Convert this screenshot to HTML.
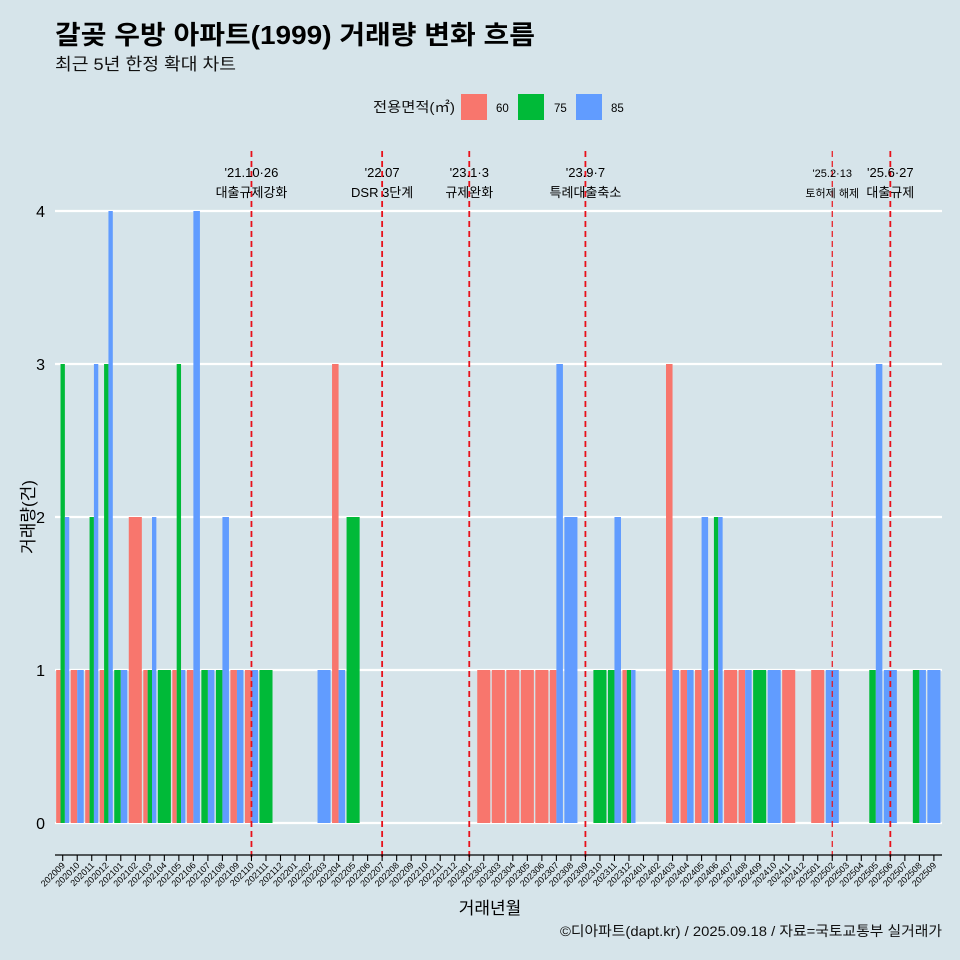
<!DOCTYPE html>
<html><head><meta charset="utf-8"><style>
body{margin:0;background:#d6e4ea;}
svg{display:block;font-family:"Liberation Sans","Noto Sans CJK KR",sans-serif;}
</style></head><body>
<svg id="chart" width="960" height="960" viewBox="0 0 960 960">
<rect width="960" height="960" fill="#d6e4ea"/>
<text x="55" y="44" font-size="26" font-weight="bold" fill="#000" textLength="480" lengthAdjust="spacingAndGlyphs">갈곶 우방 아파트(1999) 거래량 변화 흐름</text>
<text x="55" y="70" font-size="17" fill="#111" textLength="181" lengthAdjust="spacingAndGlyphs">최근 5년 한정 확대 차트</text>
<g>
<text x="373" y="112" font-size="14" fill="#111" textLength="82" lengthAdjust="spacingAndGlyphs">전용면적(㎡)</text>
<rect x="461" y="94" width="26" height="26" fill="#F8766D"/>
<text x="496" y="112" font-size="11.5">60</text>
<rect x="518" y="94" width="26" height="26" fill="#00BA38"/>
<text x="554" y="112" font-size="11.5">75</text>
<rect x="576" y="94" width="26" height="26" fill="#619CFF"/>
<text x="611" y="112" font-size="11.5">85</text>
</g>
<g id="grid"></g><g id="bars"></g><g id="events"></g><g id="xaxis"></g>
<text x="490" y="914" font-size="17" text-anchor="middle">거래년월</text>
<text transform="translate(34,517) rotate(-90)" font-size="17" text-anchor="middle">거래량(건)</text>
<text x="942" y="936" font-size="14" text-anchor="end" fill="#111" textLength="382" lengthAdjust="spacingAndGlyphs">©디아파트(dapt.kr) / 2025.09.18 / 자료=국토교통부 실거래가</text>
</svg>
<script>
const months=[];for(let y=2020,m=9;!(y===2025&&m===10);){months.push(y+String(m).padStart(2,'0'));m++;if(m>12){m=1;y++;}}
const v60=[1,1,1,1,null,2,1,null,1,1,null,null,1,1,null,null,null,null,null,3,null,null,null,null,null,null,null,null,null,1,1,1,1,1,1,null,null,null,null,1,null,null,3,1,1,1,1,1,null,null,1,null,1,null,null,null,null,null,null,null,null];
const v75=[3,null,2,3,1,null,1,1,3,null,1,1,null,null,1,null,null,null,null,null,2,null,null,null,null,null,null,null,null,null,null,null,null,null,null,null,null,1,1,1,null,null,null,null,null,2,null,null,1,null,null,null,null,null,null,null,1,null,null,1,null];
const v85=[2,1,3,4,1,null,2,null,1,4,1,2,1,1,null,null,null,null,1,1,null,null,null,null,null,null,null,null,null,null,null,null,null,null,3,2,null,null,2,1,null,null,1,1,2,2,null,1,null,1,null,null,null,1,null,null,3,1,null,1,1];
const yTicks=[0,1,2,3,4];
const events=[{m:'202110',l1:"'21.10·26",l2:'대출규제강화',thin:false},{m:'202207',l1:"'22.07",l2:'DSR 3단계',thin:false},{m:'202301',l1:"'23.1·3",l2:'규제완화',thin:false},{m:'202309',l1:"'23.9·7",l2:'특례대출축소',thin:false},{m:'202502',l1:"'25.2·13",l2:'토허제 해제',thin:true},{m:'202506',l1:"'25.6·27",l2:'대출규제',thin:false}];
const colors=['#F8766D','#00BA38','#619CFF'];const names=['60','75','85'];
const NS='http://www.w3.org/2000/svg';
const x0=62.7,step=14.52,bw=13.07;
const xs=i=>x0+i*step;
const ys=v=>823-v*153;
function mk(t,a,p){const e=document.createElementNS(NS,t);for(const k in a)e.setAttribute(k,a[k]);p.appendChild(e);return e;}
const grid=document.getElementById('grid');
yTicks.forEach(t=>{
 const l=mk('line',{x1:55,x2:942,y1:ys(t),y2:ys(t),stroke:'#fff','stroke-width':2.2},grid);
 
 
 const tx=mk('text',{x:45,y:ys(t)+6,'font-size':16,'text-anchor':'end'},grid);tx.textContent=t;
 
 
});
const bars=document.getElementById('bars');
const series=[v60,v75,v85];
months.forEach((m,i)=>{
 const present=[0,1,2].filter(g=>series[g][i]!=null);
 const k=present.length;if(!k)return;
 const w=bw/k;
 present.forEach((g,j)=>{
  const v=series[g][i];
  const r=mk('rect',{x:xs(i)-bw/2+j*w,y:ys(v),width:w,height:ys(0)-ys(v),fill:colors[g]},bars);
  
  
 });
});
const ev=document.getElementById('events');
events.forEach(e=>{
 const i=months.indexOf(e.m);const x=xs(i);
 const l=mk('line',{x1:x,x2:x,y1:151,y2:857,stroke:'#e8101a','stroke-width':e.thin?1.2:1.8,'stroke-dasharray':'6,4'},ev);
 
 
 const fs=e.thin?11:13;
 const t1=mk('text',{x:x,y:177,'font-size':fs,'text-anchor':'middle'},ev);t1.textContent=e.l1;
 
 
 const t2=mk('text',{x:x,y:197,'font-size':fs,'text-anchor':'middle'},ev);t2.textContent=e.l2;
 
 
});
const xa=document.getElementById('xaxis');
const al=mk('line',{x1:55,x2:942,y1:855,y2:855,stroke:'#000','stroke-width':1.3},xa);


months.forEach((m,i)=>{
 const x=xs(i);
 const tk=mk('line',{x1:x,x2:x,y1:855,y2:861,stroke:'#000','stroke-width':1.1},xa);
 
 
 const t=mk('text',{x:x+3,y:866,'font-size':9,'text-anchor':'end',transform:`rotate(-45 ${x+3} 866)`},xa);t.textContent=m;
 
 
});
</script>
</body></html>
